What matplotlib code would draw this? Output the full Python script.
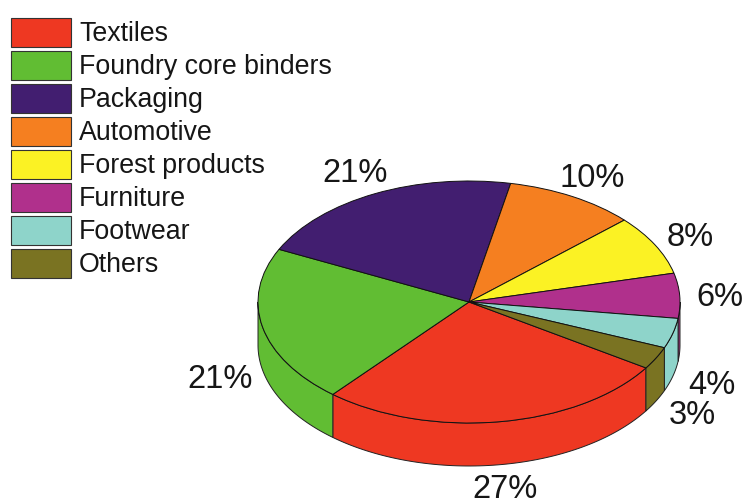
import numpy as np
import matplotlib
matplotlib.use("Agg")
import matplotlib.pyplot as plt
from matplotlib.patches import Polygon, Rectangle

plt.rcParams["font.family"] = ["Liberation Sans", "DejaVu Sans"]

categories = ["Textiles", "Foundry core binders", "Packaging", "Automotive",
              "Forest products", "Furniture", "Footwear", "Others"]
shares = [27, 21, 21, 10, 8, 6, 4, 3]
colors = ["#ee3822", "#61bd33", "#421e70", "#f57f20",
          "#fbf224", "#b0308c", "#8ed4ca", "#7a7322"]

W, H = 745, 503
START_ANGLE = 327.0
CENTER = (469, 302)
RX, RY = 211, 121
DEPTH = 43 / RY
INK = "#161616"

# label anchors in pixels, measured from the top-left of the canvas
label_centers = [(505, 489), (220, 379), (355, 174), (592, 178),
                 (690, 237), (720, 298), (712, 385), (692, 415)]


def px_x(x):
    return x / W


def px_y(y):
    return 1 - y / H


fig = plt.figure(figsize=(W / 100, H / 100), dpi=100)
ax = fig.add_axes([px_x(CENTER[0] - RX), px_y(CENTER[1] + RY),
                   2 * RX / W, 2 * RY / H])

wedges, _ = ax.pie(shares, colors=colors, startangle=START_ANGLE,
                   counterclock=False, radius=1, center=(0, 0),
                   wedgeprops=dict(edgecolor="#111111", linewidth=0.7, zorder=5))
ax.set_aspect("auto")
ax.set_xlim(-1, 1)
ax.set_ylim(-1, 1)
ax.axis("off")
for w in wedges:
    w.set_clip_on(False)

# side wall: only the front half of the rim (180..360 degrees) is visible
for wedge, color in zip(wedges, colors):
    lo, hi = sorted((wedge.theta1, wedge.theta2))
    for shift in (0, 360, -360):
        a = max(lo + shift, 180)
        b = min(hi + shift, 360)
        if b <= a:
            continue
        t = np.radians(np.linspace(a, b, 80))
        xs, ys = np.cos(t), np.sin(t)
        pts = np.r_[np.c_[xs, ys], np.c_[xs[::-1], ys[::-1] - DEPTH]]
        ax.add_patch(Polygon(pts, closed=True, facecolor=color, edgecolor="#222222",
                             linewidth=0.7, zorder=2, clip_on=False))

for share, (x, y) in zip(shares, label_centers):
    fig.text(px_x(x), px_y(y), f"{share}%", fontsize=23.5, color=INK,
             ha="center", va="center")

# legend swatches and names
for i, (name, color) in enumerate(zip(categories, colors)):
    top = 18 + i * 33
    fig.add_artist(Rectangle((px_x(11), px_y(top + 29)), 60 / W, 29 / H,
                             transform=fig.transFigure, facecolor=color,
                             edgecolor="#333333", linewidth=0.8))
    fig.text(px_x(79), px_y(top + 16), name, fontsize=19.3, color=INK,
             ha="left", va="center")

fig.savefig("out.png", dpi=100, facecolor="white")
